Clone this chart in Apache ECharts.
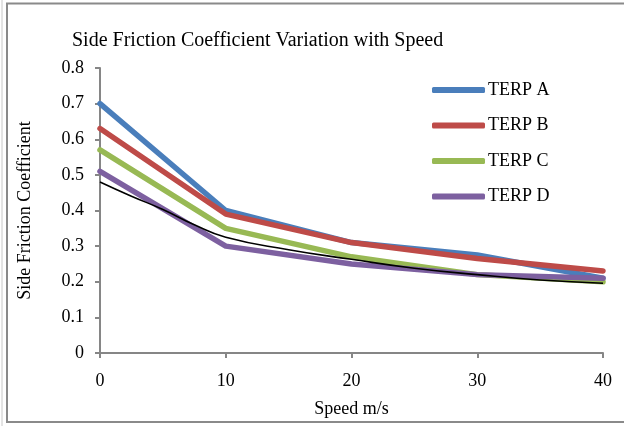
<!DOCTYPE html>
<html>
<head>
<meta charset="utf-8">
<script src="https://cdn.jsdelivr.net/npm/echarts@6/dist/echarts.min.js"></script>
<style>
  html, body { margin: 0; padding: 0; background: #fff; }
  #chart { width: 624px; height: 426px; }
</style>
</head>
<body>
<div id="chart"></div>
<script>
// speed (m/s) and side friction coefficient per vehicle
const speeds = [0, 10, 20, 30, 40];
const terpA = [0.70, 0.40, 0.31, 0.275, 0.21];
const terpB = [0.63, 0.39, 0.31, 0.265, 0.23];
const terpC = [0.57, 0.35, 0.27, 0.22, 0.20];
const terpD = [0.51, 0.30, 0.25, 0.22, 0.21];
// thin black trend curve
const trendX = [0, 2.5, 5, 7.5, 10, 15, 20, 25, 30, 35, 40];
const trendY = [0.48, 0.44, 0.403, 0.36, 0.325, 0.29, 0.263, 0.238, 0.22, 0.205, 0.196];

const font = 'Liberation Serif';
const pair = (xs, ys) => xs.map((x, i) => [x, ys[i]]);

const chart = echarts.init(document.getElementById('chart'));

function line(name, data, color) {
    return {
        name: name,
        type: 'line',
        data: pair(speeds, data),
        symbol: 'none',
        lineStyle: { color: color, width: 5.5, cap: 'round', join: 'round' },
        itemStyle: { color: color },
        z: 3
    };
}

chart.setOption({
    animation: false,
    backgroundColor: '#fff',
    textStyle: { fontFamily: font },
    title: {
        text: 'Side Friction Coefficient Variation with Speed',
        left: 67,
        top: 26,
        textStyle: { fontFamily: font, fontSize: 20, fontWeight: 'normal', color: '#000' }
    },
    legend: {
        data: ['TERP A', 'TERP B', 'TERP C', 'TERP D'],
        orient: 'vertical',
        left: 427,
        top: 76,
        itemWidth: 53,
        itemHeight: 6,
        itemGap: 17.5,
        icon: 'roundRect',
        textStyle: { fontFamily: font, fontSize: 18, color: '#000', padding: [0, 0, 0, -2] }
    },
    grid: { left: 100, right: 21, top: 68, bottom: 73 },
    xAxis: {
        type: 'value',
        min: 0,
        max: 40,
        interval: 10,
        name: 'Speed m/s',
        nameLocation: 'middle',
        nameGap: 47,
        nameTextStyle: { fontFamily: font, fontSize: 18, color: '#000' },
        axisLine: { lineStyle: { color: '#868686', width: 2 } },
        axisTick: { show: true, length: 5, inside: false, lineStyle: { color: '#868686', width: 2 } },
        axisLabel: { fontFamily: font, fontSize: 18, color: '#000', margin: 19 },
        splitLine: { show: false }
    },
    yAxis: {
        type: 'value',
        min: 0,
        max: 0.8,
        interval: 0.1,
        name: 'Side Friction Coefficient',
        nameLocation: 'middle',
        nameGap: 66,
        nameTextStyle: { fontFamily: font, fontSize: 18, color: '#000' },
        axisLine: { show: true, lineStyle: { color: '#868686', width: 2 } },
        axisTick: { show: true, length: 5, inside: false, lineStyle: { color: '#868686', width: 2 } },
        axisLabel: { fontFamily: font, fontSize: 18, color: '#000', margin: 16 },
        splitLine: { show: false }
    },
    graphic: [{
        type: 'rect',
        shape: { x: 7, y: 3.5, width: 630, height: 418.5 },
        style: { fill: 'none', stroke: '#8a8a8a', lineWidth: 2 },
        silent: true
    }, {
        type: 'line',
        shape: { x1: 2, y1: 0, x2: 2, y2: 426 },
        style: { stroke: '#c8c8c8', lineWidth: 1 },
        silent: true
    }],
    series: [
        line('TERP A', terpA, '#4a7ebb'),
        line('TERP B', terpB, '#be4b48'),
        line('TERP C', terpC, '#98b954'),
        line('TERP D', terpD, '#7d60a0'),
        {
            name: 'Trend',
            type: 'line',
            data: pair(trendX, trendY),
            symbol: 'none',
            smooth: true,
            lineStyle: { color: '#000', width: 1.6 },
            z: 4
        }
    ]
});
</script>
</body>
</html>
